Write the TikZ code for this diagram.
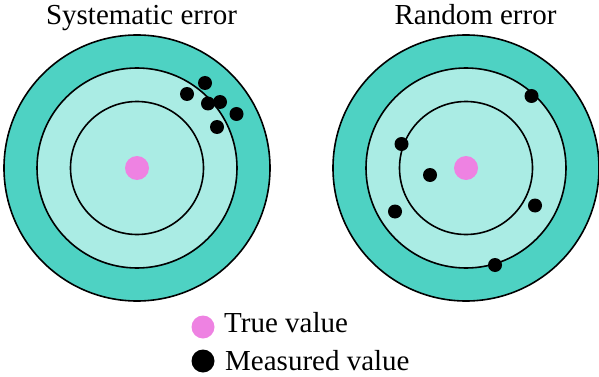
\documentclass[tikz,border=0pt]{standalone}
\usepackage{fontspec}
\setmainfont{Liberation Serif}
\definecolor{ringout}{RGB}{78,210,195}
\definecolor{ringin}{RGB}{170,236,228}
\definecolor{truepink}{RGB}{238,130,226}
\tikzset{
  outerring/.style={circle, draw=black, line width=1.6pt, fill=ringout, minimum size=266pt, inner sep=0pt},
  midring/.style={circle, draw=black, line width=1.6pt, fill=ringin, minimum size=200pt, inner sep=0pt},
  innerring/.style={circle, draw=black, line width=1.6pt, minimum size=133pt, inner sep=0pt},
  truedot/.style={circle, fill=truepink, minimum size=24pt, inner sep=0pt},
  measdot/.style={circle, fill=black, minimum size=14pt, inner sep=0pt},
  legdot/.style={circle, minimum size=23pt, inner sep=0pt},
  lbl/.style={font=\fontsize{29}{32}\selectfont, inner sep=0pt},
}
\begin{document}
\begin{tikzpicture}[x=1pt,y=-1pt]
\useasboundingbox (0,0) rectangle (599,377);
% titles
\node[lbl, anchor=base] (t1) at (141.5,25) {Systematic error};
\node[lbl, anchor=base] (t2) at (475.5,25) {Random error};
% left target
\node[outerring] (L3) at (137,168) {};
\node[midring] (L2) at (137,168) {};
\node[innerring] (L1) at (137,168) {};
\node[truedot] (Lc) at (137,168) {};
\node[measdot] (ld1) at (187,94) {};
\node[measdot] (ld2) at (205,83) {};
\node[measdot] (ld3) at (208,103.5) {};
\node[measdot] (ld4) at (220,102) {};
\node[measdot] (ld5) at (236.5,114) {};
\node[measdot] (ld6) at (217,127) {};
% right target
\node[outerring] (R3) at (466,168) {};
\node[midring] (R2) at (466,168) {};
\node[innerring] (R1) at (466,168) {};
\node[truedot] (Rc) at (466,168) {};
\node[measdot] (rd1) at (531.5,96) {};
\node[measdot] (rd2) at (401.5,144) {};
\node[measdot] (rd3) at (430,175) {};
\node[measdot] (rd4) at (395,211.5) {};
\node[measdot] (rd5) at (535,205.5) {};
\node[measdot] (rd6) at (495,265) {};
% legend
\node[legdot, fill=truepink] (lg1) at (203,327) {};
\node[lbl, anchor=base west] (lt1) at (224,332) {True value};
\node[legdot, fill=black] (lg2) at (203,361) {};
\node[lbl, anchor=base west] (lt2) at (225,370) {Measured value};
\end{tikzpicture}
\end{document}
